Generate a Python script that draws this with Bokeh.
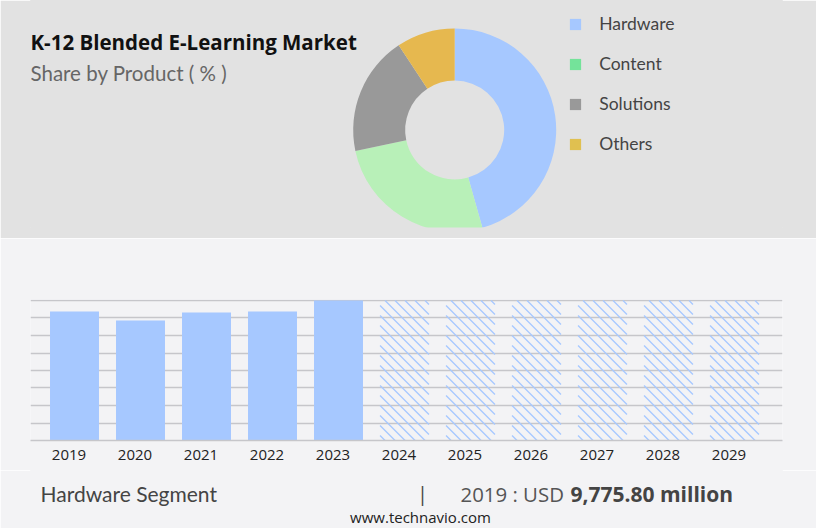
from math import pi, nan
from bokeh.embed import file_html
from bokeh.resources import INLINE
from bokeh.layouts import column
from bokeh.models import Range1d, Label, Legend, LegendItem, FixedTicker, ColumnDataSource, LinearAxis
from bokeh.plotting import figure

# ---- data ----
products = ["Hardware", "Content", "Solutions", "Others"]
shares = [45.6, 26.1, 19.0, 9.3]
pie_colors = ["#a6c8ff", "#b8f0b8", "#999999", "#e6b84f"]
legend_colors = ["#a6c8ff", "#74e39a", "#999999", "#e0c050"]

actual_years = [2019, 2020, 2021, 2022, 2023]
actual_values = [9775.80, 9100, 9700, 9776, 10610]
forecast_years = [2024, 2025, 2026, 2027, 2028, 2029]
forecast_values = [10610, 10610, 10610, 10610, 10610, 10610]
grid_values = [0, 1326, 2652, 3979, 5305, 6631, 7957, 9284, 10610]

title_text = "K-12 Blended E-Learning Market"
subtitle_text = "Share by Product ( % )"
segment_text = "Hardware Segment"
value_prefix = "2019 : USD"
value_text = "9,775.80 million"
site_text = "www.technavio.com"

GREY_BG = "#e2e2e2"
LIGHT_BG = "#f3f3f5"
W = 816
H = 528
TOP_H = 238
FOOT_H = 58

# ---- top panel ----
top = figure(width=W, height=TOP_H, output_backend="svg", toolbar_location=None,
             x_range=Range1d(30, 782), y_range=Range1d(227, 0),
             min_border_left=30, min_border_right=34, min_border_top=0, min_border_bottom=11,
             background_fill_color=GREY_BG, border_fill_color=GREY_BG,
             outline_line_color=GREY_BG, outline_line_width=1)
top.axis.visible = False
top.grid.visible = False

cum = [0.0]
for s in shares:
    cum.append(cum[-1] + s)
# clockwise from 12 o'clock
starts = [pi / 2 - c / cum[-1] * 2 * pi for c in cum[:-1]]
ends = [pi / 2 - c / cum[-1] * 2 * pi for c in cum[1:]]
src = ColumnDataSource(dict(start=starts, end=ends, color=pie_colors, product=products))
top.annular_wedge(x=454.2, y=129.5, inner_radius=49.5, outer_radius=101.5,
                  inner_radius_units="screen", outer_radius_units="screen",
                  start_angle="start", end_angle="end", fill_color="color",
                  line_color=None, source=src, direction="clock")

items = []
for name, col in zip(products, legend_colors):
    r = top.quad(left=[nan], right=[nan], top=[nan], bottom=[nan], fill_color=col, line_color=None)
    items.append(LegendItem(label=name, renderers=[r]))
legend = Legend(items=items, location=(538.2, 73), orientation="vertical",
                glyph_width=14, glyph_height=14, label_standoff=17,
                label_height=20, spacing=19, padding=0, margin=0,
                border_line_color=None, background_fill_alpha=0,
                label_text_font="Lato", label_text_font_size="17.5px",
                label_text_color="#444444", label_text_baseline="middle")
top.add_layout(legend, "center")

top.add_layout(Label(x=30, y=41.5, text=title_text, text_font="Open Sans", text_font_style="bold",
                     text_font_size="20.5px", text_color="#111111", text_baseline="middle"))
top.add_layout(Label(x=30, y=72, text=subtitle_text, text_font="Lato", text_font_size="20.5px",
                     text_color="#666666", text_baseline="middle"))

# ---- bar panel ----
PX_X = 1 / 66
PX_Y = grid_values[-1] / 140
BAR_W = 0.742
x0 = 2019 - 44 * PX_X
x1 = 2019 + (782 - 74) * PX_X
bot = figure(width=W, height=H - TOP_H - FOOT_H, output_backend="svg", toolbar_location=None,
             x_range=Range1d(x0, x1), y_range=Range1d(0, grid_values[-1] + PX_Y),
             x_axis_location=None,
             min_border_left=30, min_border_right=34, min_border_top=61, min_border_bottom=30,
             background_fill_color=LIGHT_BG, border_fill_color=LIGHT_BG, outline_line_color=None)
bot.yaxis.visible = False
bot.xgrid.visible = False
bot.ygrid.ticker = FixedTicker(ticks=grid_values)
bot.ygrid.grid_line_color = "#c6c6ca"
bot.ygrid.grid_line_width = 1.3

# tick labels sit slightly left of the bar centres
bot.extra_x_ranges["labels"] = Range1d(x0 + 5.5 * PX_X, x1 + 5.5 * PX_X)
ax = LinearAxis(x_range_name="labels", ticker=FixedTicker(ticks=actual_years + forecast_years))
ax.major_tick_line_color = None
ax.minor_tick_line_color = None
ax.axis_line_color = "#c6c6ca"
ax.axis_line_width = 1.3
ax.major_label_text_font = "Open Sans"
ax.major_label_text_font_size = "15px"
ax.major_label_text_color = "#222222"
ax.major_label_standoff = 3
bot.add_layout(ax, "below")

bot.vbar(x=actual_years, top=actual_values, bottom=0, width=BAR_W,
         fill_color="#a6c8ff", line_color=None)
bot.vbar(x=forecast_years, top=forecast_values, bottom=0, width=BAR_W,
         fill_alpha=0, line_color=None)

# hatching of the forecast bars, derived from each bar's extent
HATCH_STEP = 10
hx, hy = [], []
for year, val in zip(forecast_years, forecast_values):
    left = year - BAR_W / 2
    bw = BAR_W / PX_X
    bh = val / PX_Y
    d = -bh + 5
    while d < bw:
        xa, xb = max(d, 0), min(d + bh, bw)
        hx.append([left + xa * PX_X, left + xb * PX_X])
        hy.append([val - (xa - d) * PX_Y, val - (xb - d) * PX_Y])
        d += HATCH_STEP
bot.multi_line(hx, hy, line_color="#a6c8ff", line_width=1.3)

# ---- footer panel: ranges are page pixels ----
foot = figure(width=W, height=FOOT_H, output_backend="svg", toolbar_location=None,
              x_range=Range1d(30, 782), y_range=Range1d(H, H - FOOT_H),
              min_border_left=30, min_border_right=34, min_border_top=0, min_border_bottom=0,
              background_fill_color=LIGHT_BG, border_fill_color=LIGHT_BG,
              outline_line_color=LIGHT_BG, outline_line_width=1)
foot.axis.visible = False
foot.grid.visible = False

def txt(x, y, text, font, size, color, style="normal", align="left"):
    foot.add_layout(Label(x=x, y=y, text=text, text_font=font, text_font_size=size,
                          text_color=color, text_font_style=style, text_align=align,
                          text_baseline="middle"))

txt(40, 493, segment_text, "Lato", "21px", "#444444")
txt(422, 493, "|", "Open Sans", "20px", "#444444", align="center")
txt(460, 493, value_prefix, "Open Sans", "20.4px", "#555555")
txt(570, 493, value_text, "Open Sans", "21px", "#444444", style="bold")
txt(420, 516, site_text, "Open Sans", "15px", "#222222", align="center")

page = column(top, bot, foot, spacing=0)
open("out.html", "w").write(file_html(page, INLINE))
